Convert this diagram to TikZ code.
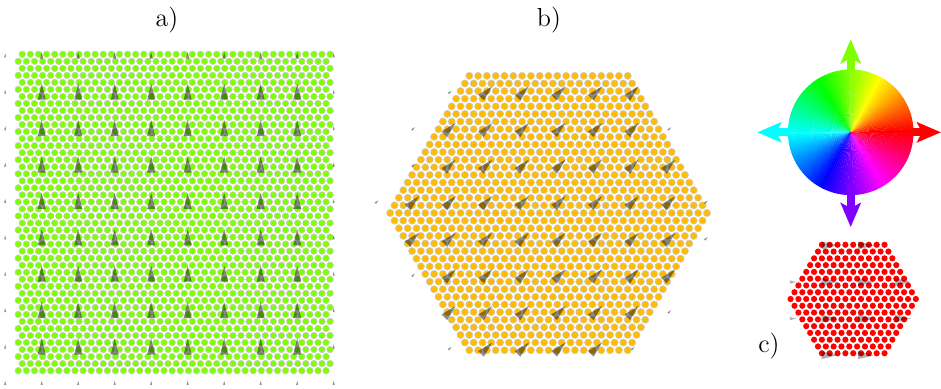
\documentclass[tikz,border=0pt]{standalone}
\usepackage{fontspec}
\usetikzlibrary{arrows.meta}
\definecolor{latGreen}{RGB}{128,255,0}
\definecolor{latOrange}{RGB}{255,188,0}
\definecolor{latRed}{RGB}{255,0,0}
\definecolor{hueViolet}{RGB}{128,0,255}
\definecolor{hueCyan}{RGB}{0,255,255}
\tikzset{cone/.pic={\fill (8,0) -- (-8,4) -- (-8,-4) -- cycle;}}

\begin{document}
\begin{tikzpicture}[x=0.5pt, y=-0.5pt,
  site/.style={draw=gray!40, line width=0.3pt},
  spin/.style={fill=black, fill opacity=#1},
  spin/.default=0.45,
  wheelarrow/.style={line width=4pt, -{Stealth[length=12pt,width=10pt,inset=2.5pt]}},
  lbl/.style={font=\fontsize{13}{15}\selectfont, inner sep=0pt, anchor=base}]
\useasboundingbox (0,0) rectangle (941,388);

% a) square patch, spins up
\foreach \r in {0,...,45}{
  \pgfmathsetmacro\yr{54.3+7.03*\r}
  \pgfmathsetmacro\xr{18.3+4*(1-mod(\r,2))}
  \path[site, fill=latGreen] \foreach \c in {0,...,38}{ ({\xr+8.1*\c},\yr) circle[radius=3.3] };
}
\foreach \i in {-1,...,8}{
  \foreach \j in {-1,...,8}{
    \pgfmathsetmacro\px{41.7+36.5*\i}
    \pgfmathsetmacro\py{91.7+36.4*\j}
    \pgfmathtruncatemacro\kind{(\i>=0)*(\i<=7)*(\j<=7)*(1+(\j>=0))}
    \ifcase\kind
      \pic[spin, rotate=90, scale=0.25] at (\px,\py) {cone};
    \or
      \pic[spin, rotate=90, scale=0.4] at (\px,\py) {cone};
    \or
      \pic[spin, rotate=90] at (\px,\py) {cone};
    \fi
  }
}

% b) hexagonal patch, spins at 45 degrees
\foreach \k in {-18,...,18}{
  \pgfmathsetmacro\yr{213+7.62*\k}
  \pgfmathtruncatemacro\nr{36-abs(\k)}
  \pgfmathsetmacro\xr{548.5-4.4*\nr}
  \path[site, fill=latOrange] \foreach \c in {0,...,\nr}{ ({\xr+8.8*\c},\yr) circle[radius=3.6] };
}
\foreach \i in {-2,...,7}{
  \foreach \j in {0,...,8}{
    \pgfmathsetmacro\px{450+36.6*\i}
    \pgfmathsetmacro\py{92+36.6*\j}
    \pgfmathsetmacro\dd{max(abs(\py-213)-137.2, 0.866*abs(\px-548.5)+0.5*abs(\py-213)-137.2)}
    \ifdim\dd pt<3pt
      \pic[spin, rotate=45] at (\px,\py) {cone};
    \else\ifdim\dd pt<23pt
      \pic[spin, rotate=45, scale=0.25] at (\px,\py) {cone};
    \fi\fi
  }
}

% c) small hexagonal patch, spins along +x
\foreach \k in {-8,...,8}{
  \pgfmathsetmacro\yr{299+6.78*\k}
  \pgfmathtruncatemacro\nr{16-abs(\k)}
  \pgfmathsetmacro\xr{853.2-3.915*\nr}
  \path[fill=latRed] \foreach \c in {0,...,\nr}{ ({\xr+7.83*\c},\yr) circle[radius=3.1] };
}
\foreach \i in {0,...,3}{
  \foreach \j in {0,...,3}{
    \pgfmathsetmacro\px{793+36.6*\i}
    \pgfmathsetmacro\py{245.4+36.6*\j}
    \pgfmathsetmacro\dd{max(abs(\py-299)-54.2, 0.866*abs(\px-853.2)+0.5*abs(\py-299)-54.2)}
    \ifdim\dd pt<3pt
      \pic[spin=0.3] at (\px,\py) {cone};
    \else\ifdim\dd pt<10pt
      \pic[spin=0.3, scale=0.4] at (\px,\py) {cone};
    \fi\fi
  }
}

% colour wheel
\coordinate (wc) at (850.7,132.3);
\foreach \h in {0,3,...,357}{
  \definecolor{huecol}{Hsb}{\h,1,1}
  \fill[huecol] (wc) -- ++(-\h:62.8) arc[start angle=-\h, delta angle=-3.4, radius=62.8] -- cycle;
}
\coordinate (wNs) at (850.7,70);   \coordinate (wNe) at (850.7,39.3);
\coordinate (wEs) at (913,132.3);  \coordinate (wEe) at (941,132.3);
\coordinate (wWs) at (788.5,132.3);\coordinate (wWe) at (757.3,132.3);
\coordinate (wSs) at (850.7,184);  \coordinate (wSe) at (850.7,227);
\draw[wheelarrow, latGreen]  (wNs) -- (wNe);
\draw[wheelarrow, latRed]    (wEs) -- (wEe);
\draw[wheelarrow, hueCyan]   (wWs) -- (wWe);
\draw[wheelarrow, hueViolet] (wSs) -- (wSe);

\node[lbl] (la) at (167,26) {a)};
\node[lbl] (lb) at (549,26) {b)};
\node[lbl] (lc) at (769,352) {c)};
\end{tikzpicture}
\end{document}
